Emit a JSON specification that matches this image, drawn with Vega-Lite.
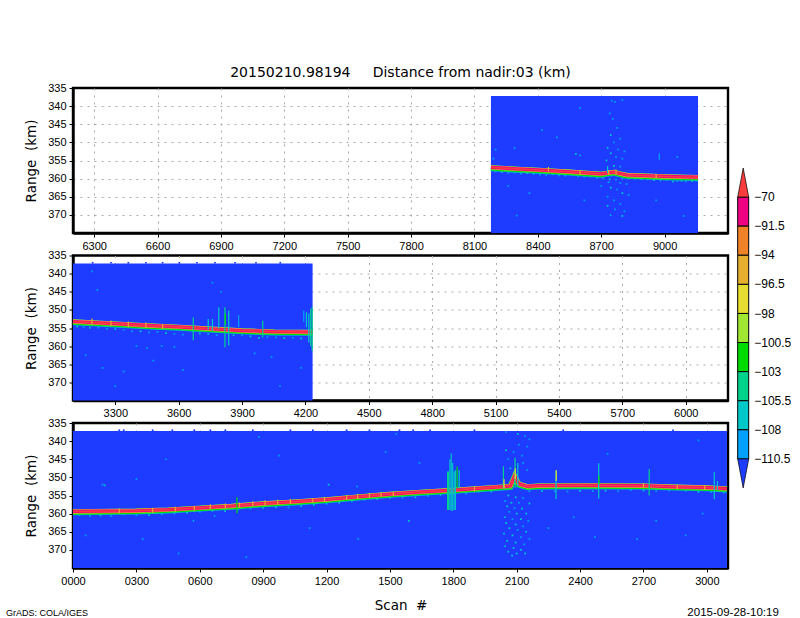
{"$schema":"https://vega.github.io/schema/vega-lite/v6.json","background":"white","padding":{"left":4,"top":64,"right":0,"bottom":0},
"datasets":{
"curtain":[{"panel":1,"scan":8178,"scan2":9158,"range":337.2,"range2":375},{"panel":2,"scan":3100,"scan2":4234,"range":337.2,"range2":375},{"panel":3,"scan":0,"scan2":3095,"range":337.2,"range2":375}],
"surface":[
{"panel":1,"scan":8178,"range":356.9},{"panel":1,"scan":8300,"range":357.3},{"panel":1,"scan":8400,"range":357.6},{"panel":1,"scan":8550,"range":358.1},{"panel":1,"scan":8700,"range":358.7},{"panel":1,"scan":8730,"range":358.4},{"panel":1,"scan":8760,"range":358.2},{"panel":1,"scan":8790,"range":358.6},{"panel":1,"scan":8820,"range":359},{"panel":1,"scan":9000,"range":359.4},{"panel":1,"scan":9158,"range":359.6},
{"panel":2,"scan":3100,"range":353.2},{"panel":2,"scan":3300,"range":353.8},{"panel":2,"scan":3450,"range":354.3},{"panel":2,"scan":3600,"range":354.7},{"panel":2,"scan":3750,"range":355.2},{"panel":2,"scan":3900,"range":355.7},{"panel":2,"scan":4050,"range":356},{"panel":2,"scan":4234,"range":356.1},
{"panel":3,"scan":0,"range":359.4},{"panel":3,"scan":300,"range":359.2},{"panel":3,"scan":450,"range":358.9},{"panel":3,"scan":600,"range":358.4},{"panel":3,"scan":750,"range":357.9},{"panel":3,"scan":900,"range":357.2},{"panel":3,"scan":1050,"range":356.7},{"panel":3,"scan":1200,"range":356.1},{"panel":3,"scan":1350,"range":355.3},{"panel":3,"scan":1500,"range":354.6},{"panel":3,"scan":1650,"range":354},{"panel":3,"scan":1800,"range":353.5},{"panel":3,"scan":2000,"range":352.7},{"panel":3,"scan":2070,"range":352.4},{"panel":3,"scan":2090,"range":349.6},{"panel":3,"scan":2110,"range":351.8},{"panel":3,"scan":2150,"range":352.5},{"panel":3,"scan":2200,"range":352.3},{"panel":3,"scan":2400,"range":352.2},{"panel":3,"scan":2700,"range":352.3},{"panel":3,"scan":2850,"range":352.6},{"panel":3,"scan":3000,"range":352.8},{"panel":3,"scan":3095,"range":353.1}],
"spikes":[
{"panel":1,"scan":8975,"range":353,"range2":354.9,"level":-109},{"panel":1,"scan":8730,"range":356.5,"range2":358.4,"level":-107},{"panel":1,"scan":8450,"range":356.8,"range2":358,"level":-95},{"panel":1,"scan":8600,"range":357.6,"range2":358.8,"level":-95},{"panel":1,"scan":8735,"range":357.6,"range2":358.9,"level":-95},{"panel":1,"scan":8770,"range":357.5,"range2":358.8,"level":-95},{"panel":1,"scan":8960,"range":358.7,"range2":359.9,"level":-95},
{"panel":2,"scan":3669,"range":352.1,"range2":358.4,"level":-104},{"panel":2,"scan":3790,"range":349.3,"range2":355.2,"level":-107},{"panel":2,"scan":3819,"range":349.3,"range2":360.3,"level":-104},{"panel":2,"scan":3821,"range":351,"range2":354,"level":-102},{"panel":2,"scan":3837,"range":350.2,"range2":359.8,"level":-107},{"panel":2,"scan":3884,"range":351.4,"range2":354.8,"level":-109},{"panel":2,"scan":3998,"range":353,"range2":357.6,"level":-104},{"panel":2,"scan":3760,"range":352.5,"range2":355.8,"level":-107},{"panel":2,"scan":3740,"range":352.5,"range2":355.5,"level":-107},{"panel":2,"scan":4192,"range":350.2,"range2":353.3,"level":-109},{"panel":2,"scan":4205,"range":350.6,"range2":354.8,"level":-107},{"panel":2,"scan":4216,"range":351,"range2":359,"level":-107},{"panel":2,"scan":4225,"range":349.7,"range2":360,"level":-104},{"panel":2,"scan":4232,"range":349.3,"range2":361.3,"level":-104},{"panel":2,"scan":3190,"range":352.4,"range2":354,"level":-95},{"panel":2,"scan":3280,"range":352.9,"range2":354.5,"level":-95},{"panel":2,"scan":3362,"range":353.2,"range2":354.8,"level":-95},{"panel":2,"scan":3445,"range":353.5,"range2":355,"level":-95},{"panel":2,"scan":3524,"range":353.9,"range2":355.3,"level":-95},
{"panel":3,"scan":776,"range":355.5,"range2":359.9,"level":-102},{"panel":3,"scan":1773,"range":348.4,"range2":359,"level":-104},{"panel":3,"scan":1778,"range":348.4,"range2":359,"level":-104},{"panel":3,"scan":1784,"range":345,"range2":359,"level":-107},{"panel":3,"scan":1790,"range":343.4,"range2":359.2,"level":-107},{"panel":3,"scan":1797,"range":346,"range2":359.2,"level":-106},{"panel":3,"scan":1804,"range":348.4,"range2":359,"level":-107},{"panel":3,"scan":1810,"range":348,"range2":359,"level":-107},{"panel":3,"scan":1818,"range":347,"range2":353,"level":-102},{"panel":3,"scan":1828,"range":348,"range2":353,"level":-107},{"panel":3,"scan":2037,"range":346.9,"range2":352.9,"level":-104},{"panel":3,"scan":2040,"range":350.5,"range2":352.9,"level":-97},{"panel":3,"scan":2092,"range":344.6,"range2":352.9,"level":-104},{"panel":3,"scan":2093,"range":347.5,"range2":350.5,"level":-97},{"panel":3,"scan":2105,"range":346,"range2":352.5,"level":-107},{"panel":3,"scan":2286,"range":348,"range2":356,"level":-107},{"panel":3,"scan":2287,"range":348,"range2":351,"level":-97},{"panel":3,"scan":2488,"range":346.1,"range2":355.8,"level":-107},{"panel":3,"scan":2489,"range":349.5,"range2":351.8,"level":-102},{"panel":3,"scan":2727,"range":347.7,"range2":355,"level":-104},{"panel":3,"scan":3035,"range":348.5,"range2":356,"level":-107},{"panel":3,"scan":3050,"range":351,"range2":353.5,"level":-107},
{"panel":3,"scan":219,"range":358.6,"range2":360,"level":-95},{"panel":3,"scan":377,"range":358.4,"range2":359.8,"level":-95},{"panel":3,"scan":484,"range":358.1,"range2":359.5,"level":-95},{"panel":3,"scan":574,"range":357.8,"range2":359.2,"level":-95},{"panel":3,"scan":650,"range":357.4,"range2":358.8,"level":-95},{"panel":3,"scan":721,"range":357.2,"range2":358.6,"level":-95},{"panel":3,"scan":788,"range":356.9,"range2":358.3,"level":-95},{"panel":3,"scan":851,"range":356.6,"range2":358,"level":-95},{"panel":3,"scan":909,"range":356.3,"range2":357.7,"level":-95},{"panel":3,"scan":969,"range":356.2,"range2":357.5,"level":-95},{"panel":3,"scan":1029,"range":356,"range2":357.3,"level":-95},{"panel":3,"scan":1135,"range":355.7,"range2":357,"level":-95},{"panel":3,"scan":1190,"range":355.4,"range2":356.8,"level":-95},{"panel":3,"scan":1295,"range":354.9,"range2":356.2,"level":-95},{"panel":3,"scan":1347,"range":354.6,"range2":356,"level":-95},{"panel":3,"scan":1403,"range":354.3,"range2":355.6,"level":-95},{"panel":3,"scan":1458,"range":354.1,"range2":355.4,"level":-95},{"panel":3,"scan":1516,"range":353.9,"range2":355.2,"level":-95},{"panel":3,"scan":1900,"range":352.5,"range2":353.9,"level":-95},{"panel":3,"scan":2700,"range":351.6,"range2":353,"level":-95},{"panel":3,"scan":2860,"range":352,"range2":353.3,"level":-95},{"panel":3,"scan":2990,"range":352.2,"range2":353.5,"level":-95}],
"specks":[
{"panel":1,"scan":8200,"range":358,"level":-109},{"panel":1,"scan":8230,"range":358.2,"level":-108},{"panel":1,"scan":8260,"range":358.4,"level":-109},{"panel":1,"scan":8290,"range":358.3,"level":-109},{"panel":1,"scan":8320,"range":358.6,"level":-109},{"panel":1,"scan":8350,"range":358.5,"level":-107},{"panel":1,"scan":8380,"range":358.7,"level":-109},{"panel":1,"scan":8410,"range":358.9,"level":-109},{"panel":1,"scan":8440,"range":359,"level":-109},{"panel":1,"scan":8470,"range":358.8,"level":-107},{"panel":1,"scan":8500,"range":359.1,"level":-109},{"panel":1,"scan":8530,"range":359.2,"level":-109},{"panel":1,"scan":8560,"range":359,"level":-109},{"panel":1,"scan":8590,"range":359.4,"level":-109},{"panel":1,"scan":8620,"range":359.4,"level":-107},{"panel":1,"scan":8650,"range":359.5,"level":-109},{"panel":1,"scan":8680,"range":359.8,"level":-109},{"panel":1,"scan":8710,"range":360,"level":-109},{"panel":1,"scan":8740,"range":360.2,"level":-107},{"panel":1,"scan":8770,"range":360.3,"level":-109},{"panel":1,"scan":8800,"range":360,"level":-109},{"panel":1,"scan":8830,"range":360,"level":-109},{"panel":1,"scan":8860,"range":360.1,"level":-109},{"panel":1,"scan":8890,"range":360.1,"level":-107},{"panel":1,"scan":8920,"range":360.2,"level":-109},{"panel":1,"scan":8950,"range":360.4,"level":-107},{"panel":1,"scan":8980,"range":360.5,"level":-109},{"panel":1,"scan":9010,"range":360.4,"level":-109},{"panel":1,"scan":9040,"range":360.8,"level":-107},{"panel":1,"scan":9060,"range":360.7,"level":-109},{"panel":1,"scan":9080,"range":360.6,"level":-107},{"panel":1,"scan":9100,"range":360.8,"level":-109},{"panel":1,"scan":9130,"range":360.7,"level":-107},{"panel":1,"scan":9150,"range":360.6,"level":-109},
{"panel":1,"scan":8750,"range":338.5,"level":-109},{"panel":1,"scan":8765,"range":338.8,"level":-109},{"panel":1,"scan":8800,"range":338.3,"level":-109},{"panel":1,"scan":8740,"range":342,"level":-109},{"panel":1,"scan":8755,"range":343.5,"level":-109},{"panel":1,"scan":8775,"range":346,"level":-109},{"panel":1,"scan":8745,"range":348,"level":-107},{"panel":1,"scan":8790,"range":349,"level":-109},{"panel":1,"scan":8760,"range":350,"level":-109},{"panel":1,"scan":8730,"range":351.5,"level":-107},{"panel":1,"scan":8780,"range":352,"level":-109},{"panel":1,"scan":8810,"range":352.5,"level":-109},{"panel":1,"scan":8745,"range":353,"level":-107},{"panel":1,"scan":8770,"range":354,"level":-109},{"panel":1,"scan":8800,"range":354.5,"level":-109},{"panel":1,"scan":8725,"range":355,"level":-107},{"panel":1,"scan":8760,"range":356.5,"level":-107},{"panel":1,"scan":8790,"range":356.7,"level":-109},{"panel":1,"scan":8735,"range":361,"level":-109},{"panel":1,"scan":8790,"range":361.2,"level":-109},{"panel":1,"scan":8820,"range":361.5,"level":-109},{"panel":1,"scan":8700,"range":362,"level":-109},{"panel":1,"scan":8745,"range":362.5,"level":-107},{"panel":1,"scan":8775,"range":363,"level":-109},{"panel":1,"scan":8800,"range":364,"level":-107},{"panel":1,"scan":8830,"range":364.5,"level":-109},{"panel":1,"scan":8730,"range":365,"level":-109},{"panel":1,"scan":8760,"range":366,"level":-109},{"panel":1,"scan":8790,"range":367,"level":-109},{"panel":1,"scan":8730,"range":367.5,"level":-107},{"panel":1,"scan":8765,"range":368.5,"level":-109},{"panel":1,"scan":8810,"range":369,"level":-109},{"panel":1,"scan":8745,"range":370.1,"level":-109},{"panel":1,"scan":8800,"range":370.3,"level":-107},
{"panel":1,"scan":8190,"range":354.5,"level":-109},{"panel":1,"scan":8200,"range":352,"level":-109},{"panel":1,"scan":8290,"range":351.6,"level":-109},{"panel":1,"scan":8420,"range":346.6,"level":-109},{"panel":1,"scan":8490,"range":348.6,"level":-109},{"panel":1,"scan":8580,"range":353.2,"level":-107},{"panel":1,"scan":8600,"range":353.6,"level":-109},{"panel":1,"scan":8600,"range":340.5,"level":-109},{"panel":1,"scan":8360,"range":364,"level":-109},{"panel":1,"scan":8260,"range":362,"level":-109},{"panel":1,"scan":8300,"range":370.2,"level":-109},{"panel":1,"scan":8620,"range":366,"level":-109},{"panel":1,"scan":8960,"range":366,"level":-109},{"panel":1,"scan":9090,"range":370.3,"level":-109},{"panel":1,"scan":9060,"range":354,"level":-109},
{"panel":2,"scan":3193,"range":337,"level":-115},{"panel":2,"scan":3280,"range":337,"level":-115},{"panel":2,"scan":3362,"range":337,"level":-115},{"panel":2,"scan":3445,"range":337,"level":-115},{"panel":2,"scan":3524,"range":337,"level":-115},{"panel":2,"scan":3603,"range":337,"level":-115},{"panel":2,"scan":3687,"range":337,"level":-115},{"panel":2,"scan":3772,"range":337,"level":-115},{"panel":2,"scan":3867,"range":337,"level":-115},{"panel":2,"scan":3966,"range":337,"level":-115},{"panel":2,"scan":4081,"range":337,"level":-115},
{"panel":2,"scan":3120,"range":354.6,"level":-107},{"panel":2,"scan":3150,"range":354.7,"level":-109},{"panel":2,"scan":3180,"range":354.9,"level":-107},{"panel":2,"scan":3220,"range":354.9,"level":-109},{"panel":2,"scan":3260,"range":355.2,"level":-109},{"panel":2,"scan":3300,"range":355.3,"level":-107},{"panel":2,"scan":3340,"range":355.5,"level":-109},{"panel":2,"scan":3380,"range":355.9,"level":-109},{"panel":2,"scan":3420,"range":355.9,"level":-107},{"panel":2,"scan":3460,"range":356.2,"level":-109},{"panel":2,"scan":3500,"range":356.1,"level":-109},{"panel":2,"scan":3540,"range":356.4,"level":-107},{"panel":2,"scan":3580,"range":356.6,"level":-109},{"panel":2,"scan":3620,"range":356.8,"level":-109},{"panel":2,"scan":3700,"range":356.5,"level":-107},{"panel":2,"scan":3740,"range":356.7,"level":-109},{"panel":2,"scan":3780,"range":357,"level":-109},{"panel":2,"scan":3860,"range":357,"level":-107},{"panel":2,"scan":3900,"range":357,"level":-109},{"panel":2,"scan":3940,"range":357.3,"level":-107},{"panel":2,"scan":3980,"range":357.7,"level":-107},{"panel":2,"scan":4020,"range":357.5,"level":-109},{"panel":2,"scan":4060,"range":357.6,"level":-109},{"panel":2,"scan":4100,"range":357.8,"level":-107},{"panel":2,"scan":4140,"range":357.7,"level":-109},{"panel":2,"scan":4180,"range":357.9,"level":-107},
{"panel":2,"scan":3190,"range":339.4,"level":-109},{"panel":2,"scan":3215,"range":344.5,"level":-109},{"panel":2,"scan":3160,"range":362.5,"level":-109},{"panel":2,"scan":3240,"range":366,"level":-109},{"panel":2,"scan":3340,"range":367,"level":-109},{"panel":2,"scan":3400,"range":360,"level":-109},{"panel":2,"scan":3450,"range":360.5,"level":-109},{"panel":2,"scan":3520,"range":360,"level":-109},{"panel":2,"scan":3580,"range":360.2,"level":-109},{"panel":2,"scan":3620,"range":366.6,"level":-109},{"panel":2,"scan":3760,"range":342.5,"level":-109},{"panel":2,"scan":3800,"range":345,"level":-109},{"panel":2,"scan":3960,"range":362,"level":-109},{"panel":2,"scan":4040,"range":363,"level":-109},{"panel":2,"scan":4080,"range":371,"level":-109},{"panel":2,"scan":4180,"range":366,"level":-109},{"panel":2,"scan":3300,"range":371,"level":-109},{"panel":2,"scan":3480,"range":364,"level":-109},
{"panel":3,"scan":219,"range":337,"level":-115},{"panel":3,"scan":240,"range":337,"level":-115},{"panel":3,"scan":377,"range":337,"level":-115},{"panel":3,"scan":470,"range":337,"level":-115},{"panel":3,"scan":574,"range":337,"level":-115},{"panel":3,"scan":650,"range":337,"level":-115},{"panel":3,"scan":721,"range":337,"level":-115},{"panel":3,"scan":851,"range":337,"level":-115},{"panel":3,"scan":1029,"range":337,"level":-115},{"panel":3,"scan":1135,"range":337,"level":-115},{"panel":3,"scan":1295,"range":337,"level":-115},{"panel":3,"scan":1403,"range":337,"level":-115},{"panel":3,"scan":1545,"range":337,"level":-115},{"panel":3,"scan":1610,"range":337,"level":-115},{"panel":3,"scan":1690,"range":337,"level":-115},{"panel":3,"scan":1900,"range":337,"level":-115},{"panel":3,"scan":2320,"range":337,"level":-115},{"panel":3,"scan":2840,"range":337,"level":-115},
{"panel":3,"scan":30,"range":360.4,"level":-109},{"panel":3,"scan":80,"range":360.6,"level":-109},{"panel":3,"scan":130,"range":360.5,"level":-107},{"panel":3,"scan":180,"range":360.7,"level":-109},{"panel":3,"scan":240,"range":360.2,"level":-109},{"panel":3,"scan":300,"range":360.4,"level":-109},{"panel":3,"scan":360,"range":360.4,"level":-107},{"panel":3,"scan":420,"range":360.2,"level":-109},{"panel":3,"scan":480,"range":360,"level":-109},{"panel":3,"scan":540,"range":359.8,"level":-107},{"panel":3,"scan":600,"range":359.5,"level":-109},{"panel":3,"scan":660,"range":359.3,"level":-109},{"panel":3,"scan":720,"range":359.3,"level":-107},{"panel":3,"scan":780,"range":358.9,"level":-109},{"panel":3,"scan":840,"range":358.6,"level":-109},{"panel":3,"scan":900,"range":358.4,"level":-107},{"panel":3,"scan":960,"range":358.2,"level":-107},{"panel":3,"scan":1020,"range":358.3,"level":-109},{"panel":3,"scan":1080,"range":357.9,"level":-107},{"panel":3,"scan":1140,"range":357.6,"level":-107},{"panel":3,"scan":1200,"range":357.3,"level":-109},{"panel":3,"scan":1260,"range":357,"level":-107},{"panel":3,"scan":1320,"range":356.6,"level":-109},{"panel":3,"scan":1380,"range":356.2,"level":-109},{"panel":3,"scan":1440,"range":356,"level":-107},{"panel":3,"scan":1500,"range":355.7,"level":-109},{"panel":3,"scan":1560,"range":355.6,"level":-109},{"panel":3,"scan":1620,"range":355.5,"level":-107},{"panel":3,"scan":1680,"range":355.1,"level":-109},{"panel":3,"scan":1740,"range":354.8,"level":-107},{"panel":3,"scan":1860,"range":354.5,"level":-109},{"panel":3,"scan":1920,"range":354,"level":-109},{"panel":3,"scan":1980,"range":353.9,"level":-107},{"panel":3,"scan":2160,"range":353.8,"level":-109},{"panel":3,"scan":2220,"range":353.8,"level":-107},{"panel":3,"scan":2280,"range":353.8,"level":-109},{"panel":3,"scan":2340,"range":353.9,"level":-109},{"panel":3,"scan":2400,"range":353.7,"level":-107},{"panel":3,"scan":2460,"range":353.8,"level":-109},{"panel":3,"scan":2520,"range":353.7,"level":-107},{"panel":3,"scan":2580,"range":353.8,"level":-109},{"panel":3,"scan":2640,"range":353.5,"level":-109},{"panel":3,"scan":2700,"range":353.6,"level":-107},{"panel":3,"scan":2760,"range":353.7,"level":-109},{"panel":3,"scan":2820,"range":353.6,"level":-109},{"panel":3,"scan":2900,"range":353.7,"level":-109},{"panel":3,"scan":2960,"range":354,"level":-107},{"panel":3,"scan":3020,"range":354.1,"level":-109},{"panel":3,"scan":3080,"range":354.2,"level":-109},
{"panel":3,"scan":2050,"range":337.5,"level":-109},{"panel":3,"scan":2105,"range":338,"level":-107},{"panel":3,"scan":2140,"range":338.6,"level":-109},{"panel":3,"scan":2160,"range":339.5,"level":-109},{"panel":3,"scan":2110,"range":341,"level":-109},{"panel":3,"scan":2150,"range":341.5,"level":-109},{"panel":3,"scan":2050,"range":342.5,"level":-107},{"panel":3,"scan":2085,"range":343,"level":-109},{"panel":3,"scan":2125,"range":344,"level":-109},{"panel":3,"scan":2060,"range":345,"level":-109},{"panel":3,"scan":2130,"range":346,"level":-109},{"panel":3,"scan":2070,"range":347.5,"level":-107},{"panel":3,"scan":2150,"range":348,"level":-109},{"panel":3,"scan":2060,"range":355,"level":-107},{"panel":3,"scan":2095,"range":355.5,"level":-107},{"panel":3,"scan":2130,"range":355.7,"level":-109},{"panel":3,"scan":2045,"range":356.5,"level":-109},{"panel":3,"scan":2075,"range":357,"level":-107},{"panel":3,"scan":2110,"range":357,"level":-109},{"panel":3,"scan":2160,"range":357.2,"level":-107},{"panel":3,"scan":2055,"range":358,"level":-107},{"panel":3,"scan":2090,"range":358.5,"level":-109},{"panel":3,"scan":2125,"range":358.6,"level":-107},{"panel":3,"scan":2065,"range":359.5,"level":-109},{"panel":3,"scan":2100,"range":360,"level":-107},{"panel":3,"scan":2145,"range":360,"level":-107},{"panel":3,"scan":2045,"range":361,"level":-107},{"panel":3,"scan":2080,"range":361.5,"level":-109},{"panel":3,"scan":2120,"range":361.5,"level":-107},{"panel":3,"scan":2155,"range":362,"level":-109},{"panel":3,"scan":2050,"range":362.6,"level":-107},{"panel":3,"scan":2095,"range":363,"level":-107},{"panel":3,"scan":2130,"range":363.5,"level":-109},{"panel":3,"scan":2065,"range":364,"level":-107},{"panel":3,"scan":2105,"range":364.5,"level":-109},{"panel":3,"scan":2145,"range":365,"level":-107},{"panel":3,"scan":2040,"range":365.5,"level":-107},{"panel":3,"scan":2080,"range":366,"level":-107},{"panel":3,"scan":2120,"range":366.5,"level":-109},{"panel":3,"scan":2160,"range":367,"level":-109},{"panel":3,"scan":2055,"range":367.5,"level":-107},{"panel":3,"scan":2095,"range":368,"level":-107},{"panel":3,"scan":2135,"range":368.5,"level":-109},{"panel":3,"scan":2045,"range":369,"level":-107},{"panel":3,"scan":2085,"range":369.5,"level":-107},{"panel":3,"scan":2120,"range":370,"level":-107},{"panel":3,"scan":2060,"range":370.5,"level":-107},{"panel":3,"scan":2100,"range":371,"level":-107},{"panel":3,"scan":2140,"range":371,"level":-107},{"panel":3,"scan":2078,"range":371.6,"level":-107},
{"panel":3,"scan":300,"range":350.5,"level":-109},{"panel":3,"scan":440,"range":345,"level":-109},{"panel":3,"scan":140,"range":352,"level":-109},{"panel":3,"scan":150,"range":352.2,"level":-107},{"panel":3,"scan":330,"range":367,"level":-109},{"panel":3,"scan":570,"range":362,"level":-109},{"panel":3,"scan":670,"range":360.6,"level":-109},{"panel":3,"scan":880,"range":338.8,"level":-109},{"panel":3,"scan":975,"range":344,"level":-109},{"panel":3,"scan":1210,"range":352,"level":-107},{"panel":3,"scan":1345,"range":352.5,"level":-109},{"panel":3,"scan":1480,"range":343,"level":-109},{"panel":3,"scan":1530,"range":338,"level":-109},{"panel":3,"scan":1590,"range":362,"level":-107},{"panel":3,"scan":1640,"range":346,"level":-109},{"panel":3,"scan":1350,"range":367,"level":-109},{"panel":3,"scan":1120,"range":364,"level":-109},{"panel":3,"scan":820,"range":372,"level":-109},{"panel":3,"scan":60,"range":366,"level":-109},{"panel":3,"scan":500,"range":371,"level":-109},{"panel":3,"scan":2370,"range":361,"level":-109},{"panel":3,"scan":2470,"range":366.5,"level":-109},{"panel":3,"scan":2670,"range":367,"level":-109},{"panel":3,"scan":2760,"range":362,"level":-109},{"panel":3,"scan":2900,"range":366,"level":-109},{"panel":3,"scan":2980,"range":360,"level":-109},{"panel":3,"scan":2960,"range":339.8,"level":-109},{"panel":3,"scan":2530,"range":343.5,"level":-109},{"panel":3,"scan":2250,"range":364,"level":-109}],
"notes":[{"scan":-123,"range":387.5,"label":"GrADS: COLA/IGES"},{"scan":3124,"range":387.5,"label":"2015-09-28-10:19"}],
"colorbar":[{"seg":"top","level":-60,"part":"tip"},{"seg":"−70","level":-80,"part":"box"},{"seg":"−91.5","level":-93,"part":"box"},{"seg":"−94","level":-95,"part":"box"},{"seg":"−96.5","level":-97,"part":"box"},{"seg":"−98","level":-99,"part":"box"},{"seg":"−100.5","level":-102,"part":"box"},{"seg":"−103","level":-104,"part":"box"},{"seg":"−105.5","level":-107,"part":"box"},{"seg":"−108","level":-109,"part":"box"},{"seg":"−110.5","level":-115,"part":"tip"}]
},
"columns":2,"spacing":{"row":22.5,"column":9.7},"bounds":"flush",
"concat":[
{"width":655,"height":145,"title":{"text":"20150210.98194\u00a0\u00a0\u00a0\u00a0\u00a0Distance from nadir:03 (km)","anchor":"middle","offset":2,"font":"DejaVu Sans","fontSize":14,"fontWeight":"normal","color":"black"},
"encoding":{"x":{"field":"scan","type":"quantitative","title":null,"scale":{"domain":[6200,9300],"nice":false,"zero":false},"axis":{"values":[6300,6600,6900,7200,7500,7800,8100,8400,8700,9000],"format":"d"}},"y":{"field":"range","type":"quantitative","title":"Range\u00a0\u00a0(km)","scale":{"domain":[375,335],"nice":false,"zero":false},"axis":{"values":[335,340,345,350,355,360,365,370],"gridOpacity":{"condition":{"test":"datum.value===335","value":0},"value":1}}}},
"layer":[
{"data":{"name":"curtain"},"transform":[{"filter":{"field":"panel","equal":1}}],"mark":{"type":"rect","color":"#1e3cff"},"encoding":{"x2":{"field":"scan2"},"y2":{"field":"range2"}}},
{"data":{"name":"specks"},"transform":[{"filter":{"field":"panel","equal":1}}],"mark":{"type":"square","size":3,"opacity":1},"encoding":{"color":{"field":"level","type":"quantitative","scale":{"type":"threshold","domain":[-110.5,-108,-105.5,-103,-100.5,-98,-96.5,-94,-91.5,-70],"range":["#1e3cff","#00a0ff","#00c8c8","#00d28c","#00dc00","#a0e632","#e6dc32","#e6af2d","#f08228","#f00082","#fa3c3c"]},"legend":null}}},
{"data":{"name":"surface"},"transform":[{"filter":{"field":"panel","equal":1}}],"mark":{"type":"line","color":"#00c8c8","strokeWidth":6,"yOffset":0.8}},
{"data":{"name":"surface"},"transform":[{"filter":{"field":"panel","equal":1}}],"mark":{"type":"line","color":"#00dc00","strokeWidth":5.2,"yOffset":0.6}},
{"data":{"name":"surface"},"transform":[{"filter":{"field":"panel","equal":1}}],"mark":{"type":"line","color":"#e6af2d","strokeWidth":4.4}},
{"data":{"name":"surface"},"transform":[{"filter":{"field":"panel","equal":1}}],"mark":{"type":"line","color":"#f00082","strokeWidth":3.2}},
{"data":{"name":"surface"},"transform":[{"filter":{"field":"panel","equal":1}}],"mark":{"type":"line","color":"#fa3c3c","strokeWidth":1.6}},
{"data":{"name":"spikes"},"transform":[{"filter":{"field":"panel","equal":1}}],"mark":{"type":"rule","strokeWidth":1.2},"encoding":{"y2":{"field":"range2"},"color":{"field":"level","type":"quantitative","scale":{"type":"threshold","domain":[-110.5,-108,-105.5,-103,-100.5,-98,-96.5,-94,-91.5,-70],"range":["#1e3cff","#00a0ff","#00c8c8","#00d28c","#00dc00","#a0e632","#e6dc32","#e6af2d","#f08228","#f00082","#fa3c3c"]},"legend":null}}}
]},
{"width":11,"height":145,"view":{"stroke":null},"data":{"name":"colorbar"},
"encoding":{"y":{"field":"seg","type":"nominal","title":null,"sort":null,"scale":{"type":"band","domain":["top","−70","−91.5","−94","−96.5","−98","−100.5","−103","−105.5","−108","−110.5"],"range":[80,400],"paddingInner":0,"paddingOuter":0},"axis":{"orient":"right","grid":false,"domain":false,"ticks":false,"labelOffset":-14.5,"labelPadding":5,"labelFontSize":12,"values":["−70","−91.5","−94","−96.5","−98","−100.5","−103","−105.5","−108","−110.5"]}},
"color":{"field":"level","type":"quantitative","scale":{"type":"threshold","domain":[-110.5,-108,-105.5,-103,-100.5,-98,-96.5,-94,-91.5,-70],"range":["#1e3cff","#00a0ff","#00c8c8","#00d28c","#00dc00","#a0e632","#e6dc32","#e6af2d","#f08228","#f00082","#fa3c3c"]},"legend":null}},
"layer":[
{"transform":[{"filter":{"field":"part","equal":"box"}}],"mark":{"type":"rect","stroke":"black","strokeWidth":1}},
{"transform":[{"filter":{"field":"part","equal":"tip"}}],"mark":{"type":"point","filled":true,"opacity":1,"stroke":"black","strokeWidth":0.7,"size":841},"encoding":{"shape":{"condition":{"test":"datum.seg==='top'","value":"M-0.38,1L0,-1L0.38,1Z"},"value":"M-0.38,-1L0,1L0.38,-1Z"}}}
]},
{"width":655,"height":145,
"encoding":{"x":{"field":"scan","type":"quantitative","title":null,"scale":{"domain":[3100,6200],"nice":false,"zero":false},"axis":{"values":[3300,3600,3900,4200,4500,4800,5100,5400,5700,6000],"format":"d"}},"y":{"field":"range","type":"quantitative","title":"Range\u00a0\u00a0(km)","scale":{"domain":[375,335],"nice":false,"zero":false},"axis":{"values":[335,340,345,350,355,360,365,370],"gridOpacity":{"condition":{"test":"datum.value===335","value":0},"value":1}}}},
"layer":[
{"data":{"name":"curtain"},"transform":[{"filter":{"field":"panel","equal":2}}],"mark":{"type":"rect","color":"#1e3cff"},"encoding":{"x2":{"field":"scan2"},"y2":{"field":"range2"}}},
{"data":{"name":"specks"},"transform":[{"filter":{"field":"panel","equal":2}}],"mark":{"type":"square","size":3,"opacity":1},"encoding":{"color":{"field":"level","type":"quantitative","scale":{"type":"threshold","domain":[-110.5,-108,-105.5,-103,-100.5,-98,-96.5,-94,-91.5,-70],"range":["#1e3cff","#00a0ff","#00c8c8","#00d28c","#00dc00","#a0e632","#e6dc32","#e6af2d","#f08228","#f00082","#fa3c3c"]},"legend":null}}},
{"data":{"name":"surface"},"transform":[{"filter":{"field":"panel","equal":2}}],"mark":{"type":"line","color":"#00c8c8","strokeWidth":6,"yOffset":0.8}},
{"data":{"name":"surface"},"transform":[{"filter":{"field":"panel","equal":2}}],"mark":{"type":"line","color":"#00dc00","strokeWidth":5.2,"yOffset":0.6}},
{"data":{"name":"surface"},"transform":[{"filter":{"field":"panel","equal":2}}],"mark":{"type":"line","color":"#e6af2d","strokeWidth":4.4}},
{"data":{"name":"surface"},"transform":[{"filter":{"field":"panel","equal":2}}],"mark":{"type":"line","color":"#f00082","strokeWidth":3.2}},
{"data":{"name":"surface"},"transform":[{"filter":{"field":"panel","equal":2}}],"mark":{"type":"line","color":"#fa3c3c","strokeWidth":1.6}},
{"data":{"name":"spikes"},"transform":[{"filter":{"field":"panel","equal":2}}],"mark":{"type":"rule","strokeWidth":1.2},"encoding":{"y2":{"field":"range2"},"color":{"field":"level","type":"quantitative","scale":{"type":"threshold","domain":[-110.5,-108,-105.5,-103,-100.5,-98,-96.5,-94,-91.5,-70],"range":["#1e3cff","#00a0ff","#00c8c8","#00d28c","#00dc00","#a0e632","#e6dc32","#e6af2d","#f08228","#f00082","#fa3c3c"]},"legend":null}}}
]},
{"width":11,"height":145,"view":{"stroke":null},"data":{"values":[]},"mark":"point"},
{"width":655,"height":145,
"encoding":{"x":{"field":"scan","type":"quantitative","title":"Scan\u00a0\u00a0#","scale":{"domain":[0,3100],"nice":false,"zero":false},"axis":{"values":[0,300,600,900,1200,1500,1800,2100,2400,2700,3000],"format":"04d","titleFont":"DejaVu Sans","titleFontSize":13.5,"titlePadding":12}},"y":{"field":"range","type":"quantitative","title":"Range\u00a0\u00a0(km)","scale":{"domain":[375,335],"nice":false,"zero":false},"axis":{"values":[335,340,345,350,355,360,365,370],"gridOpacity":{"condition":{"test":"datum.value===335","value":0},"value":1}}}},
"layer":[
{"data":{"name":"curtain"},"transform":[{"filter":{"field":"panel","equal":3}}],"mark":{"type":"rect","color":"#1e3cff"},"encoding":{"x2":{"field":"scan2"},"y2":{"field":"range2"}}},
{"data":{"name":"specks"},"transform":[{"filter":{"field":"panel","equal":3}}],"mark":{"type":"square","size":3,"opacity":1},"encoding":{"color":{"field":"level","type":"quantitative","scale":{"type":"threshold","domain":[-110.5,-108,-105.5,-103,-100.5,-98,-96.5,-94,-91.5,-70],"range":["#1e3cff","#00a0ff","#00c8c8","#00d28c","#00dc00","#a0e632","#e6dc32","#e6af2d","#f08228","#f00082","#fa3c3c"]},"legend":null}}},
{"data":{"name":"surface"},"transform":[{"filter":{"field":"panel","equal":3}}],"mark":{"type":"line","color":"#00c8c8","strokeWidth":6,"yOffset":0.8}},
{"data":{"name":"surface"},"transform":[{"filter":{"field":"panel","equal":3}}],"mark":{"type":"line","color":"#00dc00","strokeWidth":5.2,"yOffset":0.6}},
{"data":{"name":"surface"},"transform":[{"filter":{"field":"panel","equal":3}}],"mark":{"type":"line","color":"#e6af2d","strokeWidth":4.4}},
{"data":{"name":"surface"},"transform":[{"filter":{"field":"panel","equal":3}}],"mark":{"type":"line","color":"#f00082","strokeWidth":3.2}},
{"data":{"name":"surface"},"transform":[{"filter":{"field":"panel","equal":3}}],"mark":{"type":"line","color":"#fa3c3c","strokeWidth":1.6}},
{"data":{"name":"spikes"},"transform":[{"filter":{"field":"panel","equal":3}}],"mark":{"type":"rule","strokeWidth":1.2},"encoding":{"y2":{"field":"range2"},"color":{"field":"level","type":"quantitative","scale":{"type":"threshold","domain":[-110.5,-108,-105.5,-103,-100.5,-98,-96.5,-94,-91.5,-70],"range":["#1e3cff","#00a0ff","#00c8c8","#00d28c","#00dc00","#a0e632","#e6dc32","#e6af2d","#f08228","#f00082","#fa3c3c"]},"legend":null}}},
{"data":{"name":"notes"},"transform":[{"filter":{"field":"scan","lt":0}}],"mark":{"type":"text","font":"Liberation Sans","fontSize":9,"baseline":"middle","color":"black"},"encoding":{"text":{"field":"label"}}},
{"data":{"name":"notes"},"transform":[{"filter":{"field":"scan","gt":0}}],"mark":{"type":"text","font":"Liberation Sans","fontSize":11.5,"baseline":"middle","color":"black"},"encoding":{"text":{"field":"label"}}}
]}
],
"config":{"view":{"stroke":"black","strokeWidth":2.4},
"axis":{"zindex":1,"grid":true,"gridColor":"#aaaaaa","gridDash":[2,5],"gridWidth":1,"domain":true,"domainColor":"black","domainWidth":2.4,"tickColor":"black","tickSize":4,"tickWidth":1,"labelColor":"black","labelFont":"Liberation Sans","labelFontSize":11,"labelOverlap":false,"labelFlush":false,"labelPadding":3,"titleColor":"black","titleFont":"DejaVu Sans","titleFontSize":13.5,"titleFontWeight":"normal"},
"axisX":{"labelAngle":0},"axisY":{"titlePadding":9}}
}
